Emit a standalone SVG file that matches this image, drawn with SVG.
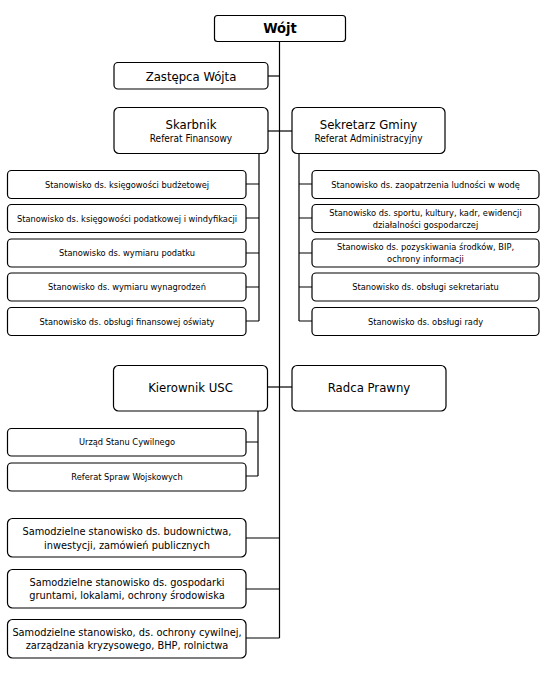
<svg xmlns="http://www.w3.org/2000/svg" width="550" height="700" viewBox="0 0 550 700">
<style>
.b{fill:#fff;stroke:#000;stroke-width:1.2}
.c{fill:none;stroke:#000;stroke-width:1.2}
text{font-family:"DejaVu Sans Condensed","DejaVu Sans",sans-serif;font-stretch:condensed;text-anchor:middle;fill:#000}
.h{font-size:13px}
.s{font-size:10px}
.l{font-size:9.2px}
.m{font-size:10.9px}
</style>
<rect width="550" height="700" fill="#fff"/>
<g id="connectors">
<path class="c" d="M279.5,41 V638"/>
<path class="c" d="M268,76 H279.5"/>
<path class="c" d="M268,131 H292"/>
<path class="c" d="M259,153 V321 M246,184 H259 M246,218 H259 M246,253 H259 M246,287 H259 M246,321 H259"/>
<path class="c" d="M299,153 V321 M299,184 H312 M299,218 H312 M299,253 H312 M299,287 H312 M299,321 H312"/>
<path class="c" d="M267,387 H292"/>
<path class="c" d="M258,411 V476 M246,442 H258 M246,476 H258"/>
<path class="c" d="M246,538 H279.5 M246,589 H279.5 M246,638 H279.5"/>
</g>
<g id="wojt"><rect class="b" x="214.5" y="15.5" width="131" height="26" rx="3"/><text x="280" y="33" style="font-size:14.5px;font-weight:bold">Wójt</text></g>
<g id="zastepca"><rect class="b" x="114" y="62.5" width="154" height="26.5" rx="4"/><text class="h" x="191" y="81">Zastępca Wójta</text></g>
<g id="skarbnik"><rect class="b" x="114" y="107.5" width="154" height="46" rx="5"/><text class="h" x="191" y="129">Skarbnik</text><text class="s" x="191" y="142">Referat Finansowy</text></g>
<g id="sekretarz"><rect class="b" x="292" y="107.5" width="153" height="46" rx="5"/><text class="h" x="368.5" y="129">Sekretarz Gminy</text><text class="s" x="368.5" y="142">Referat Administracyjny</text></g>
<g id="f1"><rect class="b" x="7.5" y="170.5" width="238.5" height="28" rx="4"/><text class="l" x="127" y="187.5">Stanowisko ds. księgowości budżetowej</text></g>
<g id="f2"><rect class="b" x="7.5" y="204.5" width="238.5" height="28" rx="4"/><text class="l" x="127" y="221.5">Stanowisko ds. księgowości podatkowej i windyfikacji</text></g>
<g id="f3"><rect class="b" x="7.5" y="239" width="238.5" height="28" rx="4"/><text class="l" x="127" y="256">Stanowisko ds. wymiaru podatku</text></g>
<g id="f4"><rect class="b" x="7.5" y="273" width="238.5" height="28" rx="4"/><text class="l" x="127" y="290">Stanowisko ds. wymiaru wynagrodzeń</text></g>
<g id="f5"><rect class="b" x="7.5" y="307.5" width="238.5" height="28" rx="4"/><text class="l" x="127" y="324.5">Stanowisko ds. obsługi finansowej oświaty</text></g>
<g id="a1"><rect class="b" x="312" y="170.5" width="227" height="28" rx="4"/><text class="l" x="425.5" y="187.5">Stanowisko ds. zaopatrzenia ludności w wodę</text></g>
<g id="a2"><rect class="b" x="312" y="204.5" width="227" height="28" rx="4"/><text class="l" x="425.5" y="215.5">Stanowisko ds. sportu, kultury, kadr, ewidencji</text><text class="l" x="425.5" y="227.5">działalności gospodarczej</text></g>
<g id="a3"><rect class="b" x="312" y="239" width="227" height="28" rx="4"/><text class="l" x="425.5" y="250">Stanowisko ds. pozyskiwania środków, BIP,</text><text class="l" x="425.5" y="262">ochrony informacji</text></g>
<g id="a4"><rect class="b" x="312" y="273" width="227" height="28" rx="4"/><text class="l" x="425.5" y="290">Stanowisko ds. obsługi sekretariatu</text></g>
<g id="a5"><rect class="b" x="312" y="307.5" width="227" height="28" rx="4"/><text class="l" x="425.5" y="324.5">Stanowisko ds. obsługi rady</text></g>
<g id="kierownik"><rect class="b" x="113.5" y="365.5" width="154" height="45.5" rx="5"/><text class="h" x="190.5" y="392">Kierownik USC</text></g>
<g id="radca"><rect class="b" x="292" y="365.5" width="154" height="45.5" rx="5"/><text class="h" x="369" y="392">Radca Prawny</text></g>
<g id="u1"><rect class="b" x="7.5" y="428.5" width="238.5" height="27.5" rx="4"/><text class="l" x="127" y="445">Urząd Stanu Cywilnego</text></g>
<g id="u2"><rect class="b" x="7.5" y="463" width="238.5" height="28" rx="4"/><text class="l" x="127" y="480">Referat Spraw Wojskowych</text></g>
<g id="b1"><rect class="b" x="7.5" y="518.5" width="238.5" height="38.5" rx="5"/><text class="m" x="127" y="535">Samodzielne stanowisko ds. budownictwa,</text><text class="m" x="127" y="548.5">inwestycji, zamówień publicznych</text></g>
<g id="b2"><rect class="b" x="7.5" y="569.5" width="238.5" height="38.5" rx="5"/><text class="m" x="127" y="585.5">Samodzielne stanowisko ds. gospodarki</text><text class="m" x="127" y="599">gruntami, lokalami, ochrony środowiska</text></g>
<g id="b3"><rect class="b" x="7.5" y="619.5" width="238.5" height="38.5" rx="5"/><text class="m" x="127" y="635.5">Samodzielne stanowisko, ds. ochrony cywilnej,</text><text class="m" x="127" y="649">zarządzania kryzysowego, BHP, rolnictwa</text></g>
</svg>
